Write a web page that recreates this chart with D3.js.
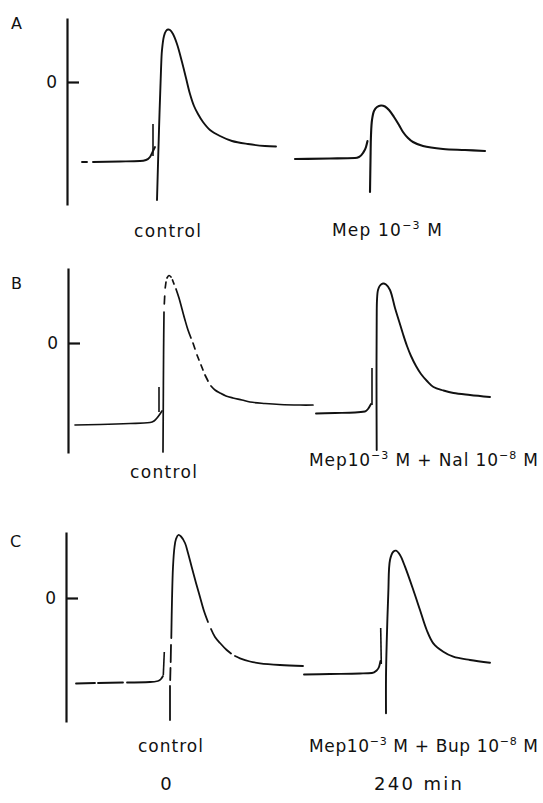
<!DOCTYPE html>
<html>
<head>
<meta charset="utf-8">
<script src="https://cdn.jsdelivr.net/npm/d3@7"></script>
<style>
  html, body { margin: 0; padding: 0; background: #fff; }
  svg { display: block; }
  text { font-family: "DejaVu Sans", "Liberation Sans", Arial, sans-serif; fill: #111; }
</style>
</head>
<body>
<div id="chart"></div>
<script>
// membrane potential records: [time from stimulus (ms), potential (mV)]
// null = break in the pen trace
const ctrlA = [
  [-152, -80], [-142, -80], null,
  [-130, -80], [-76, -79.5], [-36, -79], [-24, -78], [-16, -75], [-10, -69], [-6, -65]
];
const ctrlA_ap = [
  [-2, -118], [2, -48], [6, 12], [8, 32], [12, 46], [16, 51], [20, 52.5], [24, 52],
  [30, 48], [38, 38], [48, 20], [56, 4], [64, -12], [72, -24], [80, -32], [90, -40],
  [104, -48], [124, -54], [148, -59], [180, -62], [214, -64], [236, -64.5]
];
const ctrlA_stim = [[-10, -42], [-10, -74]];

const mepA = [
  [-150, -77], [-80, -76.5], [-30, -76], [-22, -75], [-14, -71], [-8, -65], [-5, -59]
];
const mepA_ap = [
  [0, -110], [1, -78], [2, -53], [4, -38], [8, -29], [14, -25], [22, -23.5], [30, -24.5],
  [38, -28], [48, -35], [58, -43], [66, -50], [76, -56], [86, -60], [106, -64],
  [146, -67], [190, -68], [230, -69]
];

const ctrlB = [
  [-176, -82], [-126, -81.5], [-66, -80.5], [-26, -79.5], [-18, -78], [-12, -75], [-6, -71], [-2, -68]
];
const ctrlB_ap = [
  [0, -109], [0.6, -57], [1.2, -7], [2, 31], null,
  [2.6, 39], [3.4, 47], null,
  [4.4, 55], [6, 61], null,
  [8, 65], [12, 67.5], [16, 66], null,
  [19, 63], [22, 59], null,
  [26, 54], [32, 45], [38, 34], [44, 23], [50, 13], [56, 5], null,
  [60, 0], [64, -6], null,
  [68, -12], [72, -17], null,
  [76, -22], [80, -27], null,
  [84, -32], [90, -38], null,
  [96, -43], [104, -47], [114, -50], [126, -53], [140, -55], [158, -57], [174, -59],
  [204, -60.5], [234, -61.5], [274, -62], [300, -62]
];
const ctrlB_stim = [[-8, -44], [-8, -69]];

const nalB = [
  [-122, -70.5], [-84, -70], [-44, -69.5], [-24, -68.5], [-18, -66], [-12, -61]
];
const nalB_ap = [
  [-0.6, -107], [-1, -37], [-0.6, 23], [0, 43], [2, 53], [6, 57.5], [12, 59.5], [18, 58.5],
  [26, 53], [36, 35], [44, 22], [52, 9], [60, -3], [68, -13], [78, -23], [88, -31],
  [100, -38], [113, -44], [133, -47.5], [153, -50], [186, -52], [226, -54]
];
const nalB_stim = [[-10, -25], [-10, -62]];

const ctrlC = [
  [-188, -85.5], [-150, -85], null,
  [-144, -85], [-94, -84.5], null,
  [-86, -84.5], [-40, -84], [-24, -83], [-18, -81], [-14, -78]
];
const ctrlC_ap = [
  [0, -122], [0, -88], null,
  [0.4, -82], [1, -70], null,
  [1.4, -64], [2, -47], null,
  [2.6, -40], [4, -2], [6, 31], [9, 51], [12, 59], [16.6, 63], [22, 61.5], [30, 55],
  [36, 45], [43.4, 31], [52, 15], [60, 1], [68, -13], [76, -24], null,
  [82, -31], [90, -39], [100, -45], [113.4, -52], [122, -55.5], null,
  [130, -58], [140, -60.3], [160, -63.5], [180, -65.3], [220, -67], [266, -68]
];
const ctrlC_stim = [[-11.4, -54], [-13.4, -77]];

const bupC = [
  [-164, -76.5], [-112, -76], [-52, -75.5], [-28, -75], [-20, -73], [-14, -69], [-11, -63]
];
const bupC_ap = [
  [0, -115.3], [0, -78.7], [1.4, -45], [4.6, 5], [8, 38], [14.6, 46.3], [20, 47.3],
  [28, 43], [38, 31.3], [54.6, 8], [68, -12], [81.4, -32], [94.6, -45.3], [114.6, -53.7],
  [134.6, -58.7], [168, -62], [208, -64.7]
];
const bupC_stim = [[-10.6, -30], [-9.4, -66]];

// axis extent of each panel (mV)
const axisTop = [64, 75, 66];
const axisBottom = [-123, -110, -124];

// text
const panelLetters = ["A", "B", "C"];
const labelControl = ["control"];
const labelMep = ["Mep 10", "^−3", " M"];
const labelMepNal = ["Mep10", "^−3", " M + Nal 10", "^−8", " M"];
const labelMepBup = ["Mep10", "^−3", " M + Bup 10", "^−8", " M"];
const timeLabels = ["0", "240 min"];

(function () {
  const W = 543, H = 803;
  const msPerPx = 2;
  const font = '"DejaVu Sans", "Liberation Sans", Arial, sans-serif';

  const svg = d3.select("#chart").append("svg")
    .attr("width", W).attr("height", H)
    .attr("viewBox", `0 0 ${W} ${H}`);

  // page layout (pixels)
  const panels = [
    {
      axisX: 67, top: 18, bottom: 205, letterX: 11, letterY: 29,
      traces: [
        { rest: ctrlA, ap: ctrlA_ap, stim: ctrlA_stim, x0: 158, w: 1.9 },
        { rest: mepA, ap: mepA_ap, stim: null, x0: 370, w: 2.1 }
      ],
      labels: [
        { parts: labelControl, x: 134, y: 237, len: 67 },
        { parts: labelMep, x: 332, y: 236, len: 110 }
      ]
    },
    {
      axisX: 68, top: 268, bottom: 453, letterX: 11, letterY: 289,
      traces: [
        { rest: ctrlB, ap: ctrlB_ap, stim: ctrlB_stim, x0: 163, w: 1.7 },
        { rest: nalB, ap: nalB_ap, stim: nalB_stim, x0: 377, w: 1.9 }
      ],
      labels: [
        { parts: labelControl, x: 130, y: 478, len: 67 },
        { parts: labelMepNal, x: 309, y: 466, len: 229 }
      ]
    },
    {
      axisX: 66, top: 532, bottom: 722, letterX: 10, letterY: 547,
      traces: [
        { rest: ctrlC, ap: ctrlC_ap, stim: ctrlC_stim, x0: 170, w: 1.8 },
        { rest: bupC, ap: bupC_ap, stim: bupC_stim, x0: 386, w: 1.9 }
      ],
      labels: [
        { parts: labelControl, x: 138, y: 752, len: 65 },
        { parts: labelMepBup, x: 309, y: 752, len: 229 }
      ]
    }
  ];

  function addLabel(g, lab) {
    const t = g.append("text")
      .attr("x", lab.x)
      .attr("y", lab.y)
      .attr("font-size", 17)
      .attr("textLength", lab.len)
      .attr("lengthAdjust", "spacing");
    let raised = false;
    lab.parts.forEach((p) => {
      const sup = p.startsWith("^");
      const ts = t.append("tspan").text(sup ? p.slice(1) : p);
      if (sup) {
        ts.attr("font-size", 11).attr("dy", -7);
        raised = true;
      } else if (raised) {
        ts.attr("dy", 7);
        raised = false;
      }
    });
  }

  panels.forEach((p, i) => {
    const g = svg.append("g");

    const y = d3.scaleLinear()
      .domain([axisBottom[i], axisTop[i]])
      .range([p.bottom, p.top]);

    // vertical potential axis with the 0 mV mark
    g.append("g")
      .attr("transform", `translate(${p.axisX},0)`)
      .call(
        d3.axisLeft(y)
          .tickValues([0])
          .tickFormat(d3.format("d"))
          .tickSizeInner(-12)
          .tickSizeOuter(0)
          .tickPadding(10)
      )
      .call((a) => a.selectAll("path, line").attr("stroke", "#111").attr("stroke-width", 2.2))
      .call((a) => a.selectAll("text")
        .attr("font-size", 17)
        .attr("font-family", font)
        .attr("fill", "#111"));

    g.append("text")
      .attr("x", p.letterX)
      .attr("y", p.letterY)
      .attr("font-size", 16)
      .text(panelLetters[i]);

    p.traces.forEach((tr) => {
      const x = d3.scaleLinear()
        .domain([0, 100 * msPerPx])
        .range([tr.x0, tr.x0 + 100]);
      const line = d3.line()
        .defined((d) => d !== null)
        .x((d) => x(d[0]))
        .y((d) => y(d[1]));

      g.append("path")
        .datum(tr.rest)
        .attr("d", line.curve(d3.curveMonotoneX))
        .attr("fill", "none")
        .attr("stroke", "#111")
        .attr("stroke-width", tr.w)
        .attr("stroke-linecap", "round");

      g.append("path")
        .datum(tr.ap)
        .attr("d", line.curve(d3.curveCatmullRom.alpha(0.5)))
        .attr("fill", "none")
        .attr("stroke", "#111")
        .attr("stroke-width", tr.w)
        .attr("stroke-linecap", "round")
        .attr("stroke-linejoin", "round");

      if (tr.stim) {
        g.append("path")
          .datum(tr.stim)
          .attr("d", line.curve(d3.curveLinear))
          .attr("stroke", "#111")
          .attr("stroke-width", 1.6);
      }
    });

    p.labels.forEach((lab) => addLabel(g, lab));
  });

  // time of recording under each column
  svg.append("text")
    .attr("x", 166)
    .attr("y", 790)
    .attr("text-anchor", "middle")
    .attr("font-size", 18)
    .text(timeLabels[0]);
  svg.append("text")
    .attr("x", 374)
    .attr("y", 790)
    .attr("font-size", 18)
    .attr("textLength", 88)
    .attr("lengthAdjust", "spacing")
    .text(timeLabels[1]);
})();
</script>
</body>
</html>
